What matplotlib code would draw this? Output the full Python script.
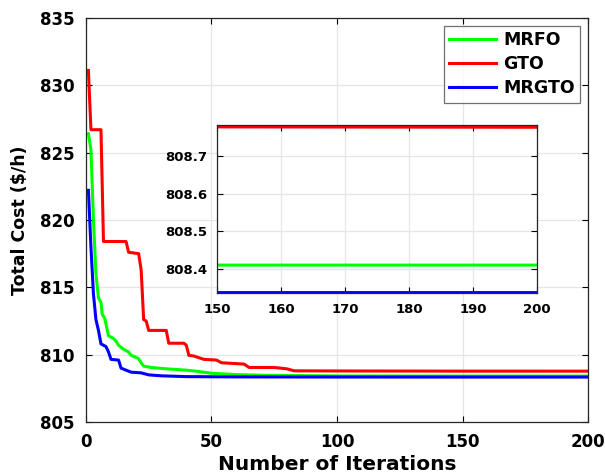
import matplotlib.pyplot as plt
import numpy as np

plt.rcParams['font.family'] = ['DejaVu Sans']
plt.rcParams['font.weight'] = 'bold'

# 收敛曲线数据 (迭代次数, 总成本)
mrfo_it = [1, 2, 3, 4, 5, 6, 6.5, 7.5, 9, 11, 12, 13, 15, 17, 18, 20, 21, 22, 23,
           26, 32, 40, 45, 50, 60, 70, 100, 150, 200]
mrfo_cost = [826.4, 825.2, 820.0, 816.0, 814.2, 813.9, 813.0, 812.7, 811.4, 811.2,
             811.0, 810.7, 810.4, 810.2, 809.95, 809.8, 809.7, 809.4, 809.15,
             809.05, 808.95, 808.85, 808.75, 808.62, 808.52, 808.47, 808.42,
             808.41, 808.41]

gto_it = [1, 2, 6, 7, 16, 17, 21, 22, 23, 24, 25, 32, 33, 39, 40, 41, 43, 47, 52,
          54, 63, 65, 75, 80, 83, 100, 150, 200]
gto_cost = [831.1, 826.7, 826.7, 818.4, 818.4, 817.6, 817.5, 816.3, 812.6, 812.5,
            811.8, 811.8, 810.85, 810.85, 810.7, 809.95, 809.9, 809.65, 809.6,
            809.4, 809.3, 809.05, 809.05, 808.95, 808.8, 808.79, 808.777, 808.776]

mrgto_it = [1, 2, 3, 4, 5, 6, 8, 9, 10, 13, 14, 16, 18, 22, 25, 30, 40, 60, 100,
            150, 200]
mrgto_cost = [822.2, 818.0, 814.5, 812.6, 811.8, 810.8, 810.6, 810.2, 809.65,
              809.6, 809.0, 808.85, 808.7, 808.65, 808.5, 808.43, 808.37, 808.35,
              808.34, 808.337, 808.337]

names = ['MRFO', 'GTO', 'MRGTO']
colors = ['#00ff00', '#ff0000', '#0000ff']
series = [(mrfo_it, mrfo_cost), (gto_it, gto_cost), (mrgto_it, mrgto_cost)]

fig = plt.figure(figsize=(6.05, 4.76), dpi=100)
ax = fig.add_axes([0.142, 0.1134, 0.830, 0.849])

for (it, c), n, col in zip(series, names, colors):
    ax.plot(it, c, color=col, linewidth=2.2, label=n)

ax.set_xlim(0, 200)
ax.set_ylim(805, 835)
ax.set_xticks(np.arange(0, 201, 50))
ax.set_yticks(np.arange(805, 836, 5))
ax.grid(True, color='#e6e6e6', linewidth=0.9)
ax.tick_params(direction='in', top=True, right=True, labelsize=12, length=4,
               pad=8)
for s in ax.spines.values():
    s.set_linewidth(0.9)
    s.set_color('#262626')
ax.set_xlabel('Number of Iterations', fontsize=14.5, fontweight='bold',
              labelpad=3)
ax.set_ylabel('Total Cost ($/h)', fontsize=12.5, fontweight='bold', labelpad=8)

leg = ax.legend(loc='upper right', fontsize=12.5, frameon=True, fancybox=False,
                edgecolor='#4d4d4d', handlelength=2.7, borderpad=0.3,
                labelspacing=0.35, handletextpad=0.4, borderaxespad=0,
                bbox_to_anchor=(0.984, 0.980))
leg.get_frame().set_linewidth(0.9)
for t in leg.get_texts():
    t.set_fontweight('bold')

## 局部放大图
axin = fig.add_axes([0.3587, 0.3845, 0.5289, 0.3529])
for (it, c), col in zip(series, colors):
    axin.plot(it, c, color=col, linewidth=2.2)
axin.set_xlim(150, 200)
axin.set_ylim(808.336, 808.782)
axin.set_xticks(np.arange(150, 201, 10))
axin.set_yticks([808.4, 808.5, 808.6, 808.7])
axin.grid(True, color='#e6e6e6', linewidth=0.9)
axin.tick_params(direction='in', top=True, right=True, labelsize=9.5, length=4,
                 pad=7)
for s in axin.spines.values():
    s.set_linewidth(0.9)
    s.set_color('#262626')

fig.savefig('out.png', dpi=100)
